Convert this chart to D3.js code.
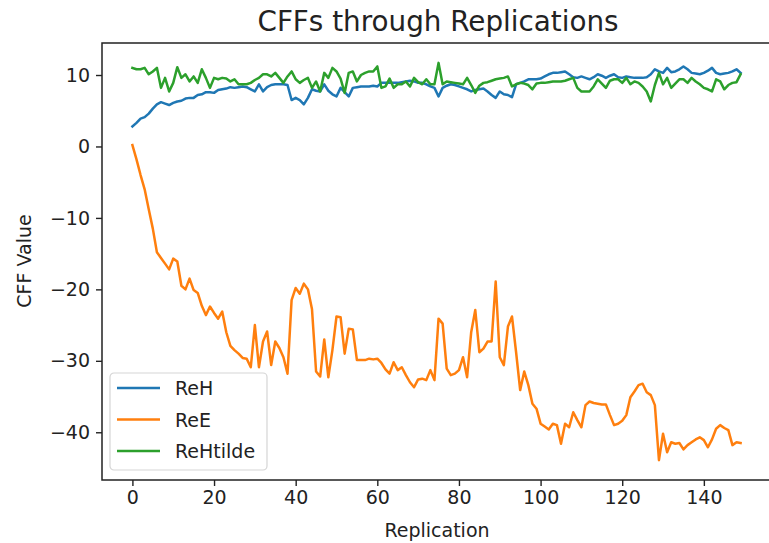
<!DOCTYPE html>
<html>
<head>
<meta charset="utf-8">
<script src="https://cdn.jsdelivr.net/npm/d3@7/dist/d3.min.js"></script>
<style>
  html, body { margin: 0; padding: 0; background: #fff; }
  svg { display: block; font-family: "DejaVu Sans", sans-serif; }
</style>
</head>
<body>
<svg id="chart" width="769" height="543"></svg>
<script>
const title = "CFFs through Replications";
const xLabel = "Replication";
const yLabel = "CFF Value";
const seriesNames = ["ReH", "ReE", "ReHtilde"];
const seriesColors = ["#1f77b4", "#ff7f0e", "#2ca02c"];
const xTicks = [0, 20, 40, 60, 80, 100, 120, 140];
const yTicks = [10, 0, -10, -20, -30, -40];

const reH = [2.8,3.3,3.9,4.1,4.6,5.3,5.9,6.2,6.0,5.8,6.1,6.3,6.4,6.7,6.8,6.8,7.2,7.3,7.6,7.6,
  7.5,7.9,8.0,8.1,8.3,8.2,8.3,8.4,8.3,8.0,7.7,8.7,7.7,8.3,8.6,8.7,8.7,8.7,8.6,6.5,
  6.8,6.5,5.9,6.8,8.0,7.8,7.7,8.7,7.8,7.3,7.0,8.2,7.6,7.0,8.2,8.3,8.4,8.4,8.4,8.5,
  8.4,8.9,8.9,8.9,8.9,8.9,9.0,9.1,9.2,9.1,8.9,8.9,8.7,8.4,8.2,7.0,8.2,8.5,8.7,8.6,
  8.4,8.2,8.0,7.7,7.9,8.0,8.1,7.7,7.2,6.8,7.7,7.3,7.2,6.9,8.7,8.9,9.1,9.4,9.4,9.4,
  9.5,9.8,10.1,10.3,10.3,10.4,10.5,10.1,9.7,9.6,9.8,9.6,9.4,9.7,10.1,9.9,9.6,9.9,10.1,9.7,
  9.6,9.8,9.7,9.6,9.6,9.6,9.7,10.1,10.8,10.5,10.3,11.0,10.4,10.5,10.8,11.2,10.8,10.3,10.2,10.1,
  10.3,10.6,11.0,10.3,10.1,10.2,10.3,10.5,10.8,10.3];

const reE = [0.2,-1.8,-4.0,-6.0,-8.8,-11.5,-14.8,-15.6,-16.4,-17.2,-15.7,-16.1,-19.5,-20.0,-18.5,-20.1,-20.5,-22.3,-23.6,-22.4,
  -23.3,-24.1,-23.1,-26.0,-27.9,-28.5,-29.0,-29.6,-29.7,-30.9,-25.0,-30.9,-27.3,-25.9,-30.6,-27.3,-28.2,-29.5,-31.8,-21.5,
  -19.8,-20.6,-19.2,-20.0,-22.8,-31.5,-32.2,-27.0,-32.3,-28.5,-23.8,-23.9,-29.0,-25.5,-25.6,-29.9,-29.9,-29.9,-29.7,-29.8,
  -29.7,-30.3,-31.2,-31.8,-30.2,-31.3,-30.9,-32.0,-33.0,-33.7,-32.6,-32.5,-32.7,-31.3,-32.7,-24.1,-24.8,-31.1,-32.0,-31.8,
  -31.3,-29.5,-32.3,-26.0,-22.9,-28.8,-28.3,-27.3,-27.3,-18.9,-29.5,-30.6,-25.2,-23.8,-28.8,-34.1,-31.5,-33.4,-36.0,-36.7,
  -38.8,-39.2,-39.6,-38.8,-39.0,-41.6,-38.8,-39.3,-37.2,-38.3,-39.3,-36.2,-35.7,-35.9,-36.0,-36.1,-36.1,-37.6,-39.0,-38.8,
  -38.4,-37.6,-35.1,-34.3,-33.4,-33.2,-34.4,-34.8,-36.2,-43.9,-40.2,-42.8,-41.4,-41.6,-41.5,-42.4,-41.8,-41.4,-41.0,-40.7,
  -41.1,-42.1,-41.0,-39.5,-39.0,-39.4,-39.7,-41.8,-41.4,-41.5];

const reHtilde = [11.0,10.8,10.8,11.0,10.1,10.5,11.0,8.2,9.6,7.7,8.9,11.1,9.6,10.1,9.1,9.8,8.9,10.8,9.6,8.2,
  9.6,9.4,9.6,9.5,9.1,9.4,8.7,8.7,8.7,8.9,9.3,9.6,10.1,10.1,9.8,10.3,9.6,8.9,9.8,10.5,
  9.4,8.9,9.3,9.6,8.2,9.1,7.7,10.3,9.6,11.0,10.5,9.5,7.5,10.3,10.5,9.1,10.0,10.3,10.5,10.5,
  11.2,8.2,8.4,9.5,8.2,8.7,8.7,9.1,8.4,9.6,9.0,8.7,9.4,8.7,8.7,11.7,8.7,9.1,9.0,8.9,
  8.8,8.7,9.6,8.6,7.5,8.5,8.9,9.0,9.2,9.4,9.5,9.6,9.8,8.4,8.7,8.9,8.8,8.6,8.0,8.8,
  8.9,8.9,9.0,9.1,9.1,9.1,9.2,9.4,9.6,8.2,7.7,7.7,7.7,8.4,9.4,8.8,8.2,9.2,9.4,9.4,
  8.9,9.6,8.7,9.1,8.9,8.4,7.7,6.3,8.6,10.3,8.7,9.6,8.2,8.8,9.4,9.4,8.9,9.6,9.1,8.7,
  8.2,8.0,7.7,9.4,9.1,8.0,8.6,8.9,9.0,10.1];

const seriesValues = [reH, reE, reHtilde];

const svg = d3.select("#chart");
const plot = { left: 102, right: 771, top: 43, bottom: 480 };

const n = reH.length;
const xMin = 0, xMax = n - 1;
const xPad = (xMax - xMin) * 0.05;
const x = d3.scaleLinear().domain([xMin - xPad, xMax + xPad]).range([plot.left, plot.right]);

const allVals = seriesValues.flat();
const yLo = d3.min(allVals), yHi = d3.max(allVals);
const yPad = (yHi - yLo) * 0.05;
const y = d3.scaleLinear().domain([yLo - yPad, yHi + yPad]).range([plot.bottom, plot.top]);

// clip
svg.append("defs").append("clipPath").attr("id", "clip")
  .append("rect").attr("x", plot.left).attr("y", plot.top)
  .attr("width", plot.right - plot.left).attr("height", plot.bottom - plot.top);

const line = d3.line().x((d, i) => x(i)).y(d => y(d));
const g = svg.append("g").attr("clip-path", "url(#clip)");
seriesValues.forEach((vals, k) => {
  g.append("path").datum(vals)
    .attr("d", line)
    .attr("fill", "none")
    .attr("stroke", seriesColors[k])
    .attr("stroke-width", 2.5)
    .attr("stroke-linejoin", "round")
    .attr("stroke-linecap", "square");
});

// axes
const xAxis = svg.append("g").attr("transform", `translate(0,${plot.bottom})`)
  .call(d3.axisBottom(x).tickValues(xTicks).tickSize(6).tickPadding(5).tickFormat(d3.format("d")));
const yAxis = svg.append("g").attr("transform", `translate(${plot.left},0)`)
  .call(d3.axisLeft(y).tickValues(yTicks).tickSize(6).tickPadding(6)
    .tickFormat(d => d < 0 ? "\u2212" + Math.abs(d) : String(d)));
[xAxis, yAxis].forEach(a => {
  a.select(".domain").remove();
  a.selectAll(".tick line").attr("stroke", "#222").attr("stroke-width", 1.4);
  a.selectAll(".tick text").attr("fill", "#222").style("font-size", "19px")
    .style("font-family", "'DejaVu Sans', sans-serif");
});

// frame
svg.append("rect").attr("x", plot.left).attr("y", plot.top)
  .attr("width", plot.right - plot.left).attr("height", plot.bottom - plot.top)
  .attr("fill", "none").attr("stroke", "#222").attr("stroke-width", 1.5);

// title and labels
svg.append("text").attr("x", 438).attr("y", 31)
  .attr("text-anchor", "middle").style("font-size", "27.8px").attr("fill", "#222").text(title);
svg.append("text").attr("x", 437).attr("y", 537)
  .attr("text-anchor", "middle").style("font-size", "19px").attr("fill", "#222").text(xLabel);
svg.append("text").attr("transform", "translate(31,261) rotate(-90)")
  .attr("text-anchor", "middle").style("font-size", "19px").attr("fill", "#222").text(yLabel);

// legend
const lg = svg.append("g").attr("transform", `translate(${plot.left + 8},${plot.bottom - 107})`);
lg.append("rect").attr("x", 0).attr("y", 0).attr("width", 157).attr("height", 97)
  .attr("rx", 4).attr("fill", "#fff").attr("fill-opacity", 0.8)
  .attr("stroke", "#d5d5d5").attr("stroke-width", 1.2);
seriesNames.forEach((name, k) => {
  const yy = 15 + k * 31.5;
  lg.append("line").attr("x1", 7).attr("x2", 50).attr("y1", yy).attr("y2", yy)
    .attr("stroke", seriesColors[k]).attr("stroke-width", 2.5);
  lg.append("text").attr("x", 65).attr("y", yy + 7).style("font-size", "19px")
    .attr("fill", "#222").text(name);
});
</script>
</body>
</html>
